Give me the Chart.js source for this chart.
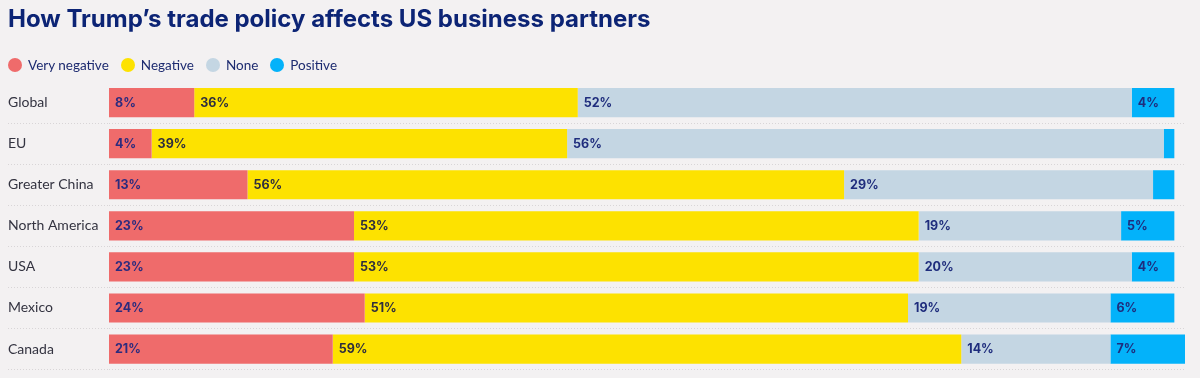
<!DOCTYPE html>
<html>
<head>
<meta charset="utf-8">
<script src="https://cdn.jsdelivr.net/npm/chart.js@4"></script>
<style>
  html, body { margin: 0; padding: 0; background: #f3f1f2; }
  #wrap { position: relative; width: 1200px; height: 378px; overflow: hidden; }
  #c { position: absolute; left: 0; top: 0; }
  #title { position: absolute; left: 8px; top: 4px; margin: 0; font-family: Inter, sans-serif; font-weight: 700; font-size: 24px; color: #0c2475; white-space: nowrap; }
  #legend { position: absolute; left: 8px; top: 57px; display: flex; align-items: center; font-family: Lato, sans-serif; font-size: 13.5px; color: #1d2b70; }
  .item { display: flex; align-items: center; margin-right: 12px; }
  .dot { width: 14px; height: 14px; border-radius: 50%; margin-right: 6px; }
</style>
</head>
<body>
<div id="wrap">
  <canvas id="c" width="1200" height="378"></canvas>
  <div id="title"></div>
  <div id="legend"></div>
</div>
<script>
const categories = ['Global', 'EU', 'Greater China', 'North America', 'USA', 'Mexico', 'Canada'];
const veryNegative = [8, 4, 13, 23, 23, 24, 21];
const negative     = [36, 39, 56, 53, 53, 51, 59];
const none         = [52, 56, 29, 19, 20, 19, 14];
const positive     = [4, 1, 2, 5, 4, 6, 7];
const seriesNames  = ['Very negative', 'Negative', 'None', 'Positive'];
const titleText = 'How Trump\u2019s trade policy affects US business partners';

const colors = ['#ef6b6b', '#fde200', '#c4d6e3', '#03b2fa'];
const labelColors = ['#2c2b7e', '#2e2e3e', '#1f2d7d', '#1f2d7d'];
const FONT = 'Lato, "Open Sans", sans-serif';

document.getElementById('title').textContent = titleText;
const legendEl = document.getElementById('legend');
seriesNames.forEach((name, i) => {
  const item = document.createElement('div');
  item.className = 'item';
  const dot = document.createElement('span');
  dot.className = 'dot';
  dot.style.background = colors[i];
  const txt = document.createElement('span');
  txt.textContent = name;
  item.appendChild(dot);
  item.appendChild(txt);
  legendEl.appendChild(item);
});

const valueLabels = {
  id: 'valueLabels',
  afterDatasetsDraw(chart) {
    const ctx = chart.ctx;
    ctx.save();
    ctx.font = 'bold 12.5px Inter, sans-serif';
    ctx.textAlign = 'left';
    ctx.textBaseline = 'middle';
    chart.data.datasets.forEach((ds, di) => {
      const meta = chart.getDatasetMeta(di);
      meta.data.forEach((bar, i) => {
        const v = ds.data[i];
        if (v < 4) return;
        const left = Math.min(bar.x, bar.base);
        ctx.fillStyle = labelColors[di];
        ctx.fillText(v + '%', left + 6, bar.y + 0.5);
      });
    });
    ctx.restore();
  }
};

new Chart(document.getElementById('c'), {
  type: 'bar',
  data: {
    labels: categories,
    datasets: [
      { label: seriesNames[0], data: veryNegative, backgroundColor: colors[0] },
      { label: seriesNames[1], data: negative, backgroundColor: colors[1] },
      { label: seriesNames[2], data: none, backgroundColor: colors[2] },
      { label: seriesNames[3], data: positive, backgroundColor: colors[3] }
    ]
  },
  options: {
    indexAxis: 'y',
    responsive: false,
    animation: false,
    devicePixelRatio: 1,
    layout: { padding: { left: 8, right: 15, top: 82, bottom: 7 } },
    datasets: { bar: { categoryPercentage: 1, barPercentage: 0.71, borderWidth: 0 } },
    scales: {
      x: {
        stacked: true, min: 0, max: 101, display: false
      },
      y: {
        stacked: true,
        afterFit(scale) { scale.width = 101; },
        grid: {
          offset: true,
          drawOnChartArea: true,
          drawTicks: true,
          tickLength: 101,
          tickBorderDash: [1, 2],
          tickColor: (c) => (c.index === 0 || c.index >= categories.length) ? 'rgba(0,0,0,0)' : '#d8d5d7',
          color: (c) => (c.index === 0 || c.index >= categories.length) ? 'rgba(0,0,0,0)' : '#d8d5d7',
          lineWidth: 1
        },
        border: { display: false, dash: [1, 2] },
        ticks: {
          crossAlign: 'far',
          padding: 0,
          color: '#333340',
          font: { family: FONT, size: 14 }
        }
      }
    },
    plugins: {
      title: { display: false },
      legend: { display: false },
      tooltip: { enabled: false }
    }
  },
  plugins: [valueLabels]
});
</script>
</body>
</html>
